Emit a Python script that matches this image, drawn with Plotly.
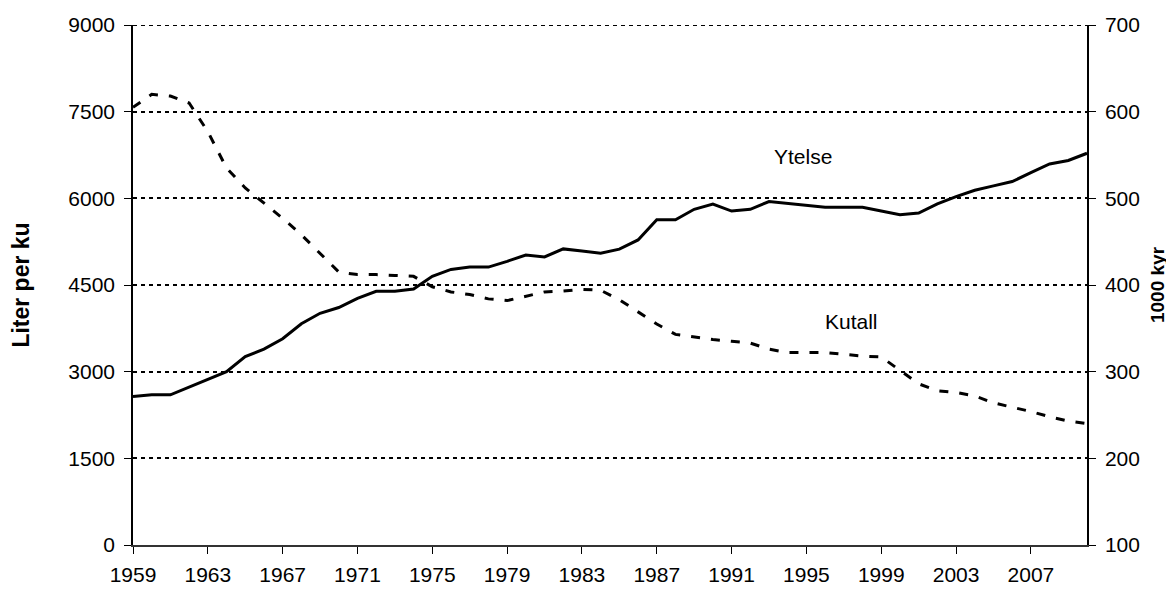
import plotly.graph_objects as go

years = list(range(1959, 2011))

ytelse = [2570, 2600, 2600, 2730, 2870, 3000, 3260, 3390, 3570, 3830,
          4010, 4110, 4270, 4390, 4390, 4430, 4650, 4770, 4810, 4810,
          4910, 5020, 4985, 5125, 5090, 5050, 5120, 5280, 5630, 5630,
          5810, 5900, 5780, 5810, 5945, 5915, 5885, 5845, 5845, 5845,
          5780, 5715, 5745, 5905, 6030, 6140, 6215, 6290, 6445, 6595,
          6655, 6780]

kutall = [605, 620, 618, 610, 577, 535, 512, 495, 477, 458,
          437, 415, 412, 412, 411, 410, 398, 392, 389, 384,
          382, 387, 392, 393, 395, 394, 383, 369, 355, 343,
          340, 337, 335, 333, 326, 322, 322, 322, 320, 318,
          317, 301, 286, 278, 276, 272, 264, 259, 254, 248,
          243, 240]

x_ticks = list(range(1959, 2008, 4))
left_ticks = [0, 1500, 3000, 4500, 6000, 7500, 9000]
right_ticks = [100, 200, 300, 400, 500, 600, 700]

FONT = "Liberation Sans, Arial, sans-serif"
GRID_DASH = "4px,4px"

fig = go.Figure()
fig.add_trace(go.Scatter(x=years, y=ytelse, mode="lines", name="Ytelse",
                         line=dict(color="black", width=3), yaxis="y"))
fig.add_trace(go.Scatter(x=years, y=kutall, mode="lines", name="Kutall",
                         line=dict(color="black", width=3, dash="9px,11px"),
                         yaxis="y2"))

# top gridline at the upper edge of the left axis
fig.add_shape(type="line", xref="paper", yref="y", x0=0, x1=1,
              y0=left_ticks[-1], y1=left_ticks[-1],
              line=dict(color="black", width=2, dash=GRID_DASH))

fig.update_layout(
    width=1166, height=584,
    margin=dict(l=125, r=87, t=17, b=47),
    paper_bgcolor="white", plot_bgcolor="white",
    showlegend=False,
    font=dict(family=FONT, size=21, color="black"),
    xaxis=dict(range=[1959, 2010], tickvals=x_ticks, ticktext=[str(v) for v in x_ticks],
               showgrid=False, zeroline=False, showline=True, linecolor="#333",
               linewidth=1.5, ticks="outside", ticklen=7, tickcolor="black",
               tickfont=dict(size=21), automargin=False, ticklabelstandoff=3),
    yaxis=dict(range=[0, 9000], tickvals=left_ticks, showgrid=True,
               gridcolor="black", gridwidth=2, griddash=GRID_DASH,
               zeroline=False, showline=True, linecolor="black", linewidth=1.5,
               ticks="outside", ticklen=7, tickcolor="black",
               tickfont=dict(size=21), automargin=False, ticklabelstandoff=5,
               title=dict(text="<b>Liter per ku</b>", font=dict(size=23), standoff=32)),
    yaxis2=dict(range=[100, 700], tickvals=right_ticks, overlaying="y", side="right",
                showgrid=False, zeroline=False, showline=True, linecolor="black",
                linewidth=1.5, ticks="outside", ticklen=7, tickcolor="black",
                tickfont=dict(size=21), automargin=False, ticklabelstandoff=5,
                title=dict(text="<b>1000 kyr</b>", font=dict(size=19), standoff=12)),
    annotations=[
        dict(x=1994.8, y=6716, xref="x", yref="y", text="Ytelse", showarrow=False,
             font=dict(size=21)),
        dict(x=1997.4, y=3866, xref="x", yref="y", text="Kutall", showarrow=False,
             font=dict(size=21)),
    ],
)

fig.write_html("out.html")
